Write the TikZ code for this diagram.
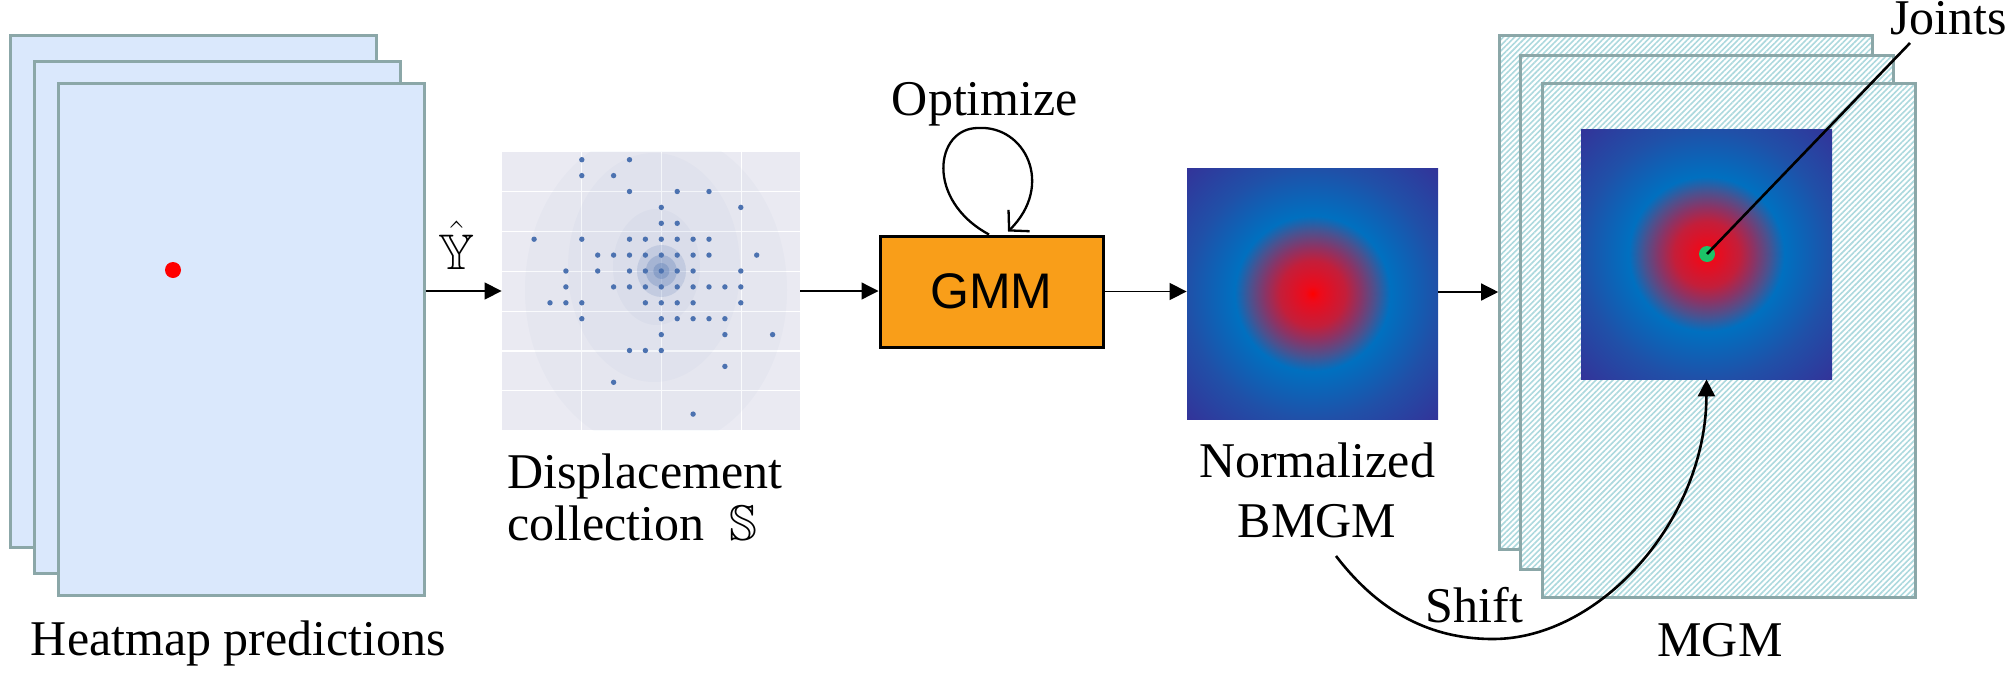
\documentclass[tikz,border=0pt]{standalone}
\usepackage{amssymb}
\usepackage{fontspec}
\setmainfont{Liberation Serif}
\newfontfamily\arialf{Liberation Sans}
\usetikzlibrary{arrows.meta,patterns.meta}

\definecolor{hmfill}{HTML}{DAE8FC}
\definecolor{stackdraw}{HTML}{8BA7A8}
\definecolor{plotbg}{HTML}{EAEAF2}
\definecolor{dotc}{HTML}{4C72B0}
\definecolor{gmmfill}{HTML}{F99E19}
\definecolor{hatchc}{HTML}{ADD9DE}
\definecolor{jointc}{HTML}{1CC468}
\definecolor{hA}{HTML}{FF0000}
\definecolor{hB}{HTML}{EE0A1A}
\definecolor{hC}{HTML}{C41E3A}
\definecolor{hD}{HTML}{8A3466}
\definecolor{hE}{HTML}{4A5290}
\definecolor{hF}{HTML}{0070C0}
\definecolor{hG}{HTML}{2050A8}
\definecolor{hH}{HTML}{333399}

\pgfdeclareradialshading{gauss}{\pgfpoint{0bp}{0bp}}{color(0bp)=(hA); color(1.5bp)=(hB); color(6.5bp)=(hC); color(9.5bp)=(hD); color(12.5bp)=(hE); color(15.5bp)=(hF); color(25bp)=(hG); color(35.5bp)=(hH); color(50bp)=(hH)}

\begin{document}
\begin{tikzpicture}[x=0.5pt,y=-0.5pt,
  font=\fontsize{25pt}{29pt}\selectfont,
  hmstack/.style={draw=stackdraw, fill=hmfill, line width=1.5pt, minimum width=183pt, minimum height=256pt, inner sep=0pt},
  mgmstack/.style={draw=stackdraw, line width=1.5pt, preaction={fill=white}, pattern={Lines[angle=45,distance=2pt,line width=0.8pt]}, pattern color=hatchc, minimum width=186.5pt, minimum height=257pt, inner sep=0pt},
  gaussbox/.style={shading=gauss, inner sep=0pt},
  flow/.style={line width=0.65pt, -{Triangle[length=8.5pt,width=8.5pt]}},
  dotst/.style={circle, inner sep=0pt, minimum size=8pt},
  lbl/.style={inner sep=0pt}
]
\useasboundingbox (0,0) rectangle (2014,675);

% ---------- heatmap predictions stack ----------
\node[hmstack] (hm1) at (193.5,291) {};
\node[hmstack] (hm2) at (217,317.5) {};
\node[hmstack] (hm3) at (241,339) {};
\node[dotst, fill=red] (rdot) at (173,270) {};
\node[lbl, anchor=base] (hmlabel) at (238.5,655) {Heatmap predictions};

% ---------- displacement collection plot ----------
\node[fill=plotbg, minimum width=149pt, minimum height=139pt, inner sep=0pt] (disp) at (651,291) {};
\begin{scope}
  \clip (disp.south west) rectangle (disp.north east);
  \foreach \gx in {581.7,661.3,741.3}
    \draw[white, line width=0.6pt] (\gx,0 |- disp.north) -- (\gx,0 |- disp.south);
  \foreach \gy in {191.7,231.5,271.3,311.1,350.9,390.7}
    \draw[white, line width=0.6pt] (disp.west |- 0,\gy) -- (disp.east |- 0,\gy);
  \fill[dotc, fill opacity=0.03] (656,290) ellipse [x radius=65.5pt, y radius=80pt];
  \fill[dotc, fill opacity=0.03] (654,267.5) ellipse [x radius=43pt, y radius=57.25pt];
  \fill[dotc, fill opacity=0.04] (656.5,267) ellipse [x radius=21.75pt, y radius=29pt];
  \fill[dotc, fill opacity=0.16] (661.5,271) ellipse [x radius=12.25pt, y radius=13pt];
  \fill[dotc, fill opacity=0.25] (661.3,271) ellipse [x radius=7.75pt, y radius=8pt];
  \fill[dotc, fill opacity=0.3] (661.3,271) ellipse [x radius=4pt, y radius=4pt];
\end{scope}
\foreach \c/\r in {-5/-7,-2/-7,
  -5/-6,-3/-6,
  -2/-5,1/-5,3/-5,
  0/-4,5/-4,
  0/-3,1/-3,
  -8/-2,-5/-2,-2/-2,-1/-2,0/-2,1/-2,2/-2,3/-2,
  -4/-1,-3/-1,-2/-1,-1/-1,0/-1,1/-1,2/-1,3/-1,6/-1,
  -6/0,-4/0,-2/0,-1/0,0/0,1/0,2/0,5/0,
  -6/1,-3/1,-2/1,-1/1,0/1,1/1,2/1,3/1,4/1,5/1,
  -7/2,-6/2,-5/2,-1/2,0/2,1/2,2/2,5/2,
  -5/3,0/3,1/3,2/3,3/3,4/3,
  0/4,4/4,7/4,
  -2/5,-1/5,0/5,
  4/6,
  -3/7,
  2/9}
  \fill[dotc] ({661.3+15.9*\c},{271+15.9*\r}) circle (1.35pt);
\node[lbl, anchor=base west, font=\fontsize{25pt}{26pt}\selectfont] (displabel) at (507,488)
  {\begin{tabular}[t]{@{}l@{}}Displacement\\collection\ \ $\mathbb{S}$\end{tabular}};

% ---------- GMM ----------
\node[draw=black, fill=gmmfill, line width=1.5pt, minimum width=111.5pt, minimum height=55.5pt, inner sep=0pt,
      font=\arialf\fontsize{25pt}{30pt}\selectfont] (gmm) at (991.5,291.5) {GMM};
\node[lbl, anchor=base] (opt) at (985,115) {Optimize};
\coordinate (loopS) at ([xshift=-1.25pt]gmm.north);
\coordinate (loopE) at ([xshift=8.25pt,yshift=1.5pt]gmm.north);
\coordinate (loopT) at (978,128);
\draw[line width=1.15pt, -{Straight Barb[length=7pt,width=15pt]}]
  (loopS) .. controls (925,200) and (935,128) .. (loopT)
          .. controls (1025,125) and (1055,185) .. (loopE);

% ---------- normalized BMGM ----------
\node[gaussbox, minimum width=125.5pt, minimum height=125.5pt] (bmgm) at (1312.5,293.5) {};
\node[lbl, anchor=base, font=\fontsize{25pt}{30pt}\selectfont] (bmgmlabel) at (1317,477)
  {\begin{tabular}[t]{@{}c@{}}Normalized\\BMGM\end{tabular}};

% ---------- MGM stack ----------
\node[mgmstack] (mgm1) at (1685.5,292) {};
\node[mgmstack] (mgm2) at (1706.5,312.5) {};
\node[mgmstack] (mgm3) at (1728.5,340) {};
\node[gaussbox, minimum width=125.5pt, minimum height=125pt] (mgmin) at (1706.5,254) {};
\node[dotst, fill=jointc] (gdot) at (1707,254) {};
\node[lbl, anchor=base west] (joints) at (1890,34) {Joints};
\coordinate (jend) at (1910,43);
\draw[line width=1.3pt] (gdot.center) -- (jend);
\node[lbl, anchor=base] (mgmlabel) at (1720,656) {MGM};

% ---------- flow arrows ----------
\draw[flow] (hm3.east |- disp.west) -- (disp.west);
\node[lbl, anchor=base] (yhat) at (457,269) {$\hat{\mathbb{Y}}$};
\draw[flow] (disp.east) -- (disp.east -| gmm.west);
\draw[flow] (gmm.east) -- (gmm.east -| bmgm.west);
\draw[flow] (bmgm.east |- mgm1.west) -- (mgm1.west);

% ---------- shift ----------
\coordinate (shs) at (1336,556);
\coordinate (shb) at (1493,639);
\draw[line width=1.3pt, -{Triangle[length=8.5pt,width=8.5pt]}]
  (shs) .. controls (1385,620) and (1440,639) .. (shb)
        .. controls (1600,639) and (1706,520) .. (mgmin.south);
\node[lbl, anchor=base] (shiftlabel) at (1474.5,622) {Shift};
\end{tikzpicture}
\end{document}
